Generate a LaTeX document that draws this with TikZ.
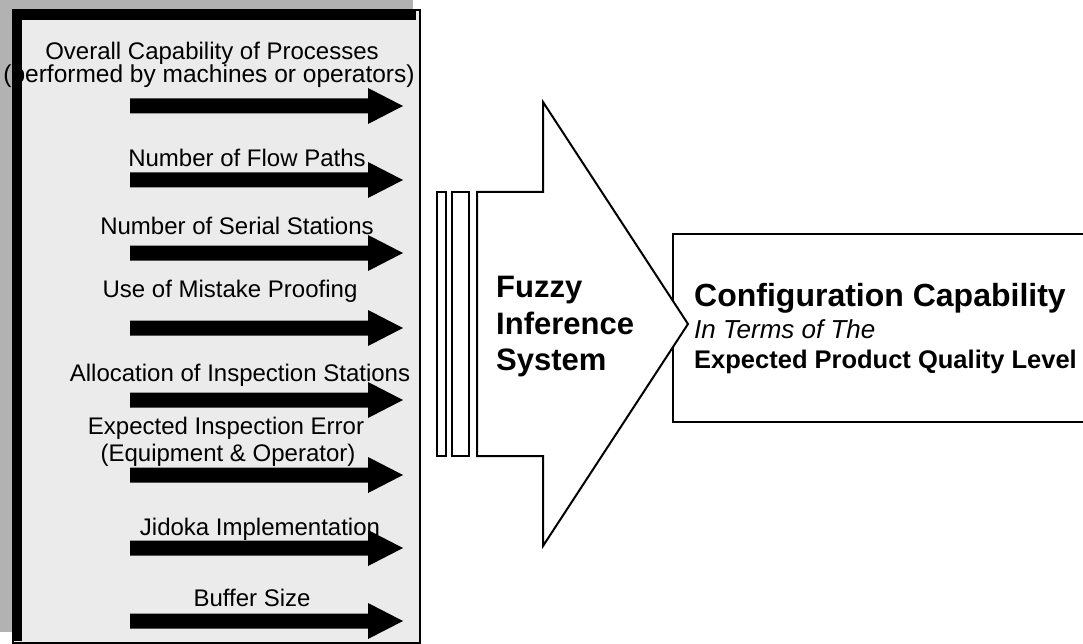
\documentclass[tikz,border=0pt]{standalone}
\usepackage{fontspec}
\setmainfont{Liberation Sans}
\begin{document}
\begin{tikzpicture}[x=1pt,y=-1pt,
  lbl/.style={font=\fontsize{24}{27}\selectfont, anchor=base, inner sep=0pt},
  fistext/.style={font=\fontsize{31}{36}\selectfont\bfseries, anchor=base west, inner sep=0pt},
  outbig/.style={font=\fontsize{32}{36}\selectfont\bfseries, anchor=base west, inner sep=0pt},
  outital/.style={font=\fontsize{26}{30}\selectfont\itshape, anchor=base west, inner sep=0pt},
  outsub/.style={font=\fontsize{25.5}{30}\selectfont\bfseries, anchor=base west, inner sep=0pt},
  outline/.style={draw=black, line width=2pt, line join=miter}]
\useasboundingbox (0,0) rectangle (1083,644);

% input panel: shadow, light body, heavy top and left edges
\fill[black!30] (0,0) rectangle (413,632);
\filldraw[fill=black!8, draw=black, line width=2pt] (13,10) rectangle (420,643);
\fill[black] (13,10) rectangle (22,641);
\fill[black] (13,10) rectangle (416,20);

% input arrows
\foreach \y in {106,180,253,328,400,475,548,621}
  \fill[black] (130,\y-7.5) -- (368,\y-7.5) -- (368,\y-18) -- (403,\y)
               -- (368,\y+18) -- (368,\y+7.5) -- (130,\y+7.5) -- cycle;

% input labels
\node[lbl] (in1a) at (212,60)  {Overall Capability of Processes};
\node[lbl] (in1b) at (209,83)  {\fontsize{24.5}{27}\selectfont(performed by machines or operators)};
\node[lbl] (in2)  at (247,167) {Number of Flow Paths};
\node[lbl] (in3)  at (237,234) {Number of Serial Stations};
\node[lbl] (in4)  at (230,297) {Use of Mistake Proofing};
\node[lbl] (in5)  at (240,381) {Allocation of Inspection Stations};
\node[lbl] (in6a) at (226,434) {Expected Inspection Error};
\node[lbl] (in6b) at (228,461) {(Equipment \& Operator)};
\node[lbl] (in7)  at (260,535) {Jidoka Implementation};
\node[lbl] (in8)  at (252,606) {Buffer Size};

% output box, open on the right
\draw[outline] (1090,234) -- (673,234) -- (673,422) -- (1090,422);

% striped tail and big arrow of the inference system
\draw[outline, line width=1.5pt, fill=white] (437,192) rectangle (446,456);
\draw[outline, line width=1.5pt, fill=white] (452,192) rectangle (469,456);
\draw[outline, fill=white] (477,192) -- (543,192) -- (543,102) -- (688,324)
  -- (543,546) -- (543,456) -- (477,456) -- cycle;

\node[fistext] (fis1) at (496,297) {Fuzzy};
\node[fistext] (fis2) at (496,334) {Inference};
\node[fistext] (fis3) at (496,370) {System};

\node[outbig]  (out1) at (694,306) {Configuration Capability};
\node[outital] (out2) at (694,338) {In Terms of The};
\node[outsub]  (out3) at (694,368) {Expected Product Quality Level};
\end{tikzpicture}
\end{document}
